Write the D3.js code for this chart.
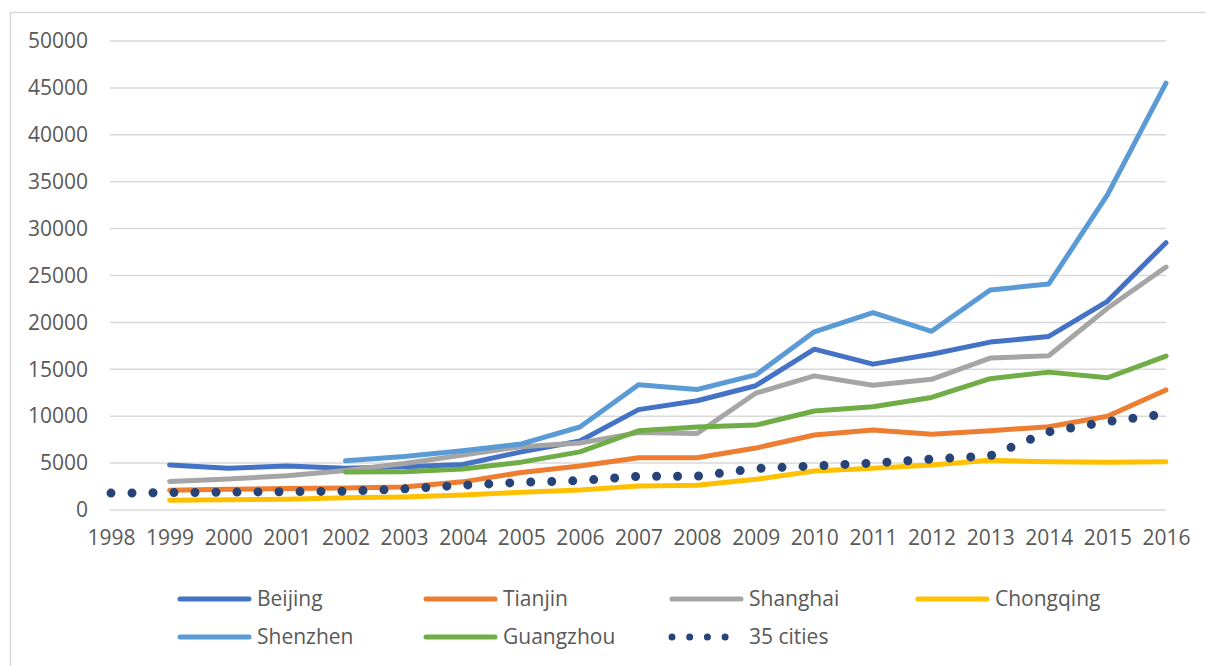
<!DOCTYPE html>
<html>
<head>
<meta charset="utf-8">
<script src="https://cdn.jsdelivr.net/npm/d3@7"></script>
<style>
  body { margin: 0; background: #fff; }
  svg { display: block; }
  text { font-family: "Open Sans", "Noto Sans", sans-serif; fill: #595959; }
</style>
</head>
<body>
<svg id="chart" width="1206" height="666"></svg>
<script>
// data
const years = ["1998","1999","2000","2001","2002","2003","2004","2005","2006","2007",
               "2008","2009","2010","2011","2012","2013","2014","2015","2016"];
const yTicks = [0, 5000, 10000, 15000, 20000, 25000, 30000, 35000, 40000, 45000, 50000];

const beijing   = [null, 4800, 4450, 4700, 4450, 4600, 4850, 6200, 7350, 10700, 11650, 13250, 17150, 15550, 16600, 17900, 18500, 22250, 28500];
const tianjin   = [null, 2100, 2200, 2300, 2350, 2450, 3000, 4000, 4700, 5580, 5580, 6600, 8000, 8530, 8070, 8450, 8880, 10000, 12800];
const shanghai  = [null, 3050, 3300, 3650, 4200, 4950, 5850, 6750, 7150, 8250, 8150, 12450, 14300, 13300, 13930, 16200, 16450, 21500, 25900];
const chongqing = [null, 1050, 1080, 1150, 1300, 1390, 1600, 1900, 2130, 2550, 2630, 3270, 4150, 4450, 4800, 5300, 5150, 5080, 5150];
const shenzhen  = [null, null, null, null, 5250, 5700, 6320, 7040, 8850, 13350, 12850, 14400, 19000, 21050, 19050, 23450, 24100, 33600, 45500];
const guangzhou = [null, null, null, null, 4050, 4080, 4370, 5100, 6200, 8450, 8850, 9050, 10550, 11000, 12000, 14000, 14700, 14100, 16400];
const cities35  = [1800, 1850, 1900, 1950, 2000, 2250, 2650, 2950, 3130, 3600, 3600, 4420, 4700, 5000, 5430, 5770, 8330, 9420, 10250];

const seriesNames  = ["Beijing", "Tianjin", "Shanghai", "Chongqing", "Shenzhen", "Guangzhou", "35 cities"];
const seriesValues = [beijing, tianjin, shanghai, chongqing, shenzhen, guangzhou, cities35];
const seriesColors = ["#4472C4", "#ED7D31", "#A5A5A5", "#FFC000", "#5B9BD5", "#70AD47", "#264478"];

const svg = d3.select("#chart");

// chart area border (only top and left are visible in the frame)
svg.append("rect")
  .attr("x", 10.5).attr("y", 12.5)
  .attr("width", 1300).attr("height", 700)
  .attr("fill", "none")
  .attr("stroke", "#d9d9d9")
  .attr("stroke-width", 1.5);

const x = d3.scalePoint().domain(years).range([111, 1166]).padding(0);
const y = d3.scaleLinear().domain([0, 50000]).range([510, 41]);

// gridlines
svg.append("g")
  .selectAll("line")
  .data(yTicks)
  .enter().append("line")
  .attr("x1", 110).attr("x2", 1166)
  .attr("y1", d => y(d)).attr("y2", d => y(d))
  .attr("stroke", "#d9d9d9")
  .attr("stroke-width", 1.5);

// y axis labels
const yAxis = svg.append("g")
  .attr("transform", "translate(90,0)")
  .call(d3.axisLeft(y).tickValues(yTicks).tickFormat(d3.format("d")).tickSize(0).tickPadding(2));
yAxis.select(".domain").remove();
yAxis.selectAll("text")
  .attr("fill", "#595959")
  .style("font-size", "21px")
  .style("font-family", "'Open Sans', sans-serif");

// x axis labels
const xAxis = svg.append("g")
  .attr("transform", "translate(0,510)")
  .call(d3.axisBottom(x).tickSize(0).tickPadding(20));
xAxis.select(".domain").remove();
xAxis.selectAll("text")
  .attr("fill", "#595959")
  .style("font-size", "21px")
  .style("font-family", "'Open Sans', sans-serif");

const line = d3.line()
  .defined(d => d != null)
  .x((d, i) => x(years[i]))
  .y(d => y(d));

// solid series
seriesValues.forEach(function(vals, i) {
  if (i === 6) return;
  svg.append("path")
    .attr("d", line(vals))
    .attr("fill", "none")
    .attr("stroke", seriesColors[i])
    .attr("stroke-width", 5)
    .attr("stroke-linejoin", "round")
    .attr("stroke-linecap", "round");
});

// 35 cities, round dotted line
svg.append("path")
  .attr("d", line(cities35))
  .attr("fill", "none")
  .attr("stroke", seriesColors[6])
  .attr("stroke-width", 9)
  .attr("stroke-linecap", "round")
  .attr("stroke-dasharray", "0 21");

// legend
const legend = svg.append("g");
seriesNames.forEach(function(name, i) {
  const col = i < 4 ? i : i - 4;
  const row = i < 4 ? 0 : 1;
  const lx = 180 + col * 246;
  const ly = row === 0 ? 599 : 637;
  const g = legend.append("g").attr("transform", "translate(" + lx + "," + ly + ")");
  if (i === 6) {
    g.append("line")
      .attr("x1", 0).attr("x2", 56).attr("y1", 0).attr("y2", 0)
      .attr("stroke", seriesColors[i])
      .attr("stroke-width", 7)
      .attr("stroke-linecap", "round")
      .attr("stroke-dasharray", "0 17.7");
  } else {
    g.append("line")
      .attr("x1", 0).attr("x2", 69).attr("y1", 0).attr("y2", 0)
      .attr("stroke", seriesColors[i])
      .attr("stroke-width", 5)
      .attr("stroke-linecap", "round");
  }
  g.append("text")
    .attr("x", 77).attr("y", 0)
    .attr("dy", "0.35em")
    .style("font-size", "21px")
    .text(name);
});
</script>
</body>
</html>
